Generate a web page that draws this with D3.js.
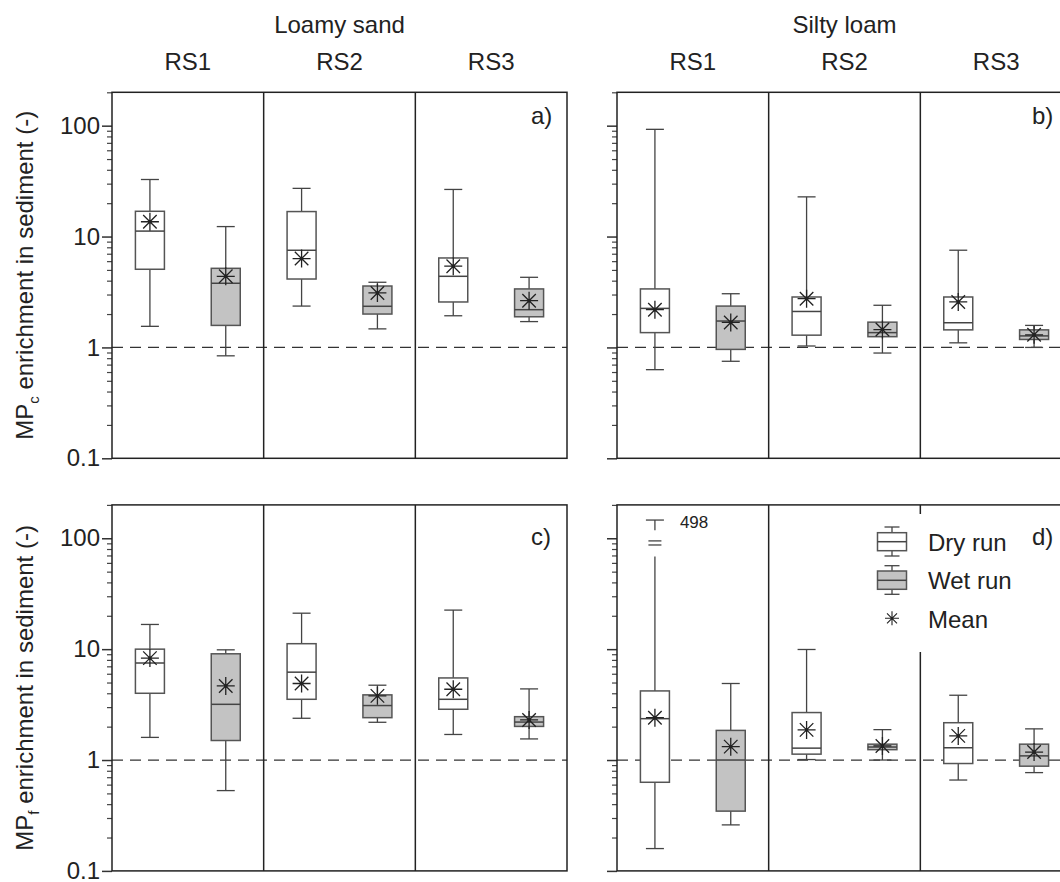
<!DOCTYPE html>
<html>
<head>
<meta charset="utf-8">
<script src="https://cdn.jsdelivr.net/npm/d3@7"></script>
<style>
body { margin: 0; background: #fff; }
text { font-family: "Liberation Sans", Arial, sans-serif; fill: #222; }
</style>
</head>
<body>
<script>
// categories and labels
var soils = ["Loamy sand", "Silty loam"];
var sites = ["RS1", "RS2", "RS3"];
var runs = ["Dry run", "Wet run", "Mean"];
var panelTags = ["a)", "b)", "c)", "d)"];
var yTicks = [0.1, 1, 10, 100];
var yTickLabels = ["0.1", "1", "10", "100"];

// each row = one site (RS1, RS2, RS3): [low, q1, median, q3, high, mean]
var mpcLoamyDry = [[1.55, 5.07, 11.2, 16.9, 32.7, 13.6], [2.36, 4.14, 7.52, 16.8, 27.2, 6.33], [1.93, 2.57, 4.38, 6.41, 26.6, 5.4]];
var mpcLoamyWet = [[0.84, 1.58, 3.79, 5.17, 12.3, 4.38], [1.47, 2.0, 2.35, 3.58, 3.87, 3.1], [1.71, 1.89, 2.19, 3.37, 4.29, 2.64]];
var mpcSiltyDry = [[0.63, 1.36, 2.25, 3.37, 92.7, 2.19], [1.03, 1.29, 2.11, 2.85, 22.8, 2.75], [1.1, 1.44, 1.67, 2.85, 7.53, 2.57]];
var mpcSiltyWet = [[0.75, 0.96, 1.73, 2.36, 3.05, 1.68], [0.89, 1.25, 1.36, 1.69, 2.4, 1.45], [1.0, 1.18, 1.27, 1.44, 1.58, 1.3]];
var mpfLoamyDry = [[1.6, 4.0, 7.5, 10.0, 16.7, 8.3], [2.38, 3.53, 6.2, 11.2, 21.1, 4.9], [1.7, 2.87, 3.53, 5.5, 22.5, 4.35]];
var mpfLoamyWet = [[0.53, 1.5, 3.18, 9.08, 9.86, 4.66], [2.19, 2.41, 3.1, 3.87, 4.73, 3.79], [1.55, 2.01, 2.2, 2.46, 4.38, 2.3]];
var mpfSiltyDry = [[0.159, 0.63, 2.36, 4.2, 498, 2.41], [1.01, 1.13, 1.28, 2.68, 9.93, 1.87], [0.66, 0.93, 1.29, 2.17, 3.84, 1.65]];
var mpfSiltyWet = [[0.26, 0.346, 1.0, 1.85, 4.9, 1.32], [1.0, 1.24, 1.31, 1.39, 1.88, 1.34], [0.77, 0.88, 1.09, 1.39, 1.91, 1.18]];

// axis break for the 498 whisker (drawn values on the log axis)
var breakCap = 146, breakStub = 118, breakMarks = [94.7, 87], breakResume = 68.5;

var svg = d3.select("body").append("svg")
    .attr("width", 1060)
    .attr("height", 882)
    .style("display", "block");

var colX = [[112, 567], [617, 1072]];
var rowY = [[458.3, 92.3], [870.9, 504.9]];
var tagPos = [[531, 124], [1032, 124], [531, 545], [1032, 545]];
var titles = [["MP", "c"], ["MP", "f"]];

var panels = [
    {row: 0, col: 0, dry: mpcLoamyDry, wet: mpcLoamyWet},
    {row: 0, col: 1, dry: mpcSiltyDry, wet: mpcSiltyWet},
    {row: 1, col: 0, dry: mpfLoamyDry, wet: mpfLoamyWet},
    {row: 1, col: 1, dry: mpfSiltyDry, wet: mpfSiltyWet}
];

var boxW = 29, capW = 18;
var minorTicks = [];
[0.1, 1, 10, 100].forEach(function(d) {
    for (var k = 2; k <= 9; k++) if (d * k <= 200) minorTicks.push(d * k);
});

function asterisk(g, cx, cy, r) {
    var d = r * 0.75;
    g.append("path")
        .attr("d", "M" + (cx - r) + "," + cy + "H" + (cx + r) +
            "M" + cx + "," + (cy - r) + "V" + (cy + r) +
            "M" + (cx - d) + "," + (cy - d) + "L" + (cx + d) + "," + (cy + d) +
            "M" + (cx - d) + "," + (cy + d) + "L" + (cx + d) + "," + (cy - d))
        .attr("stroke", "#222")
        .attr("stroke-width", 1.3)
        .attr("fill", "none");
    g.append("circle").attr("cx", cx).attr("cy", cy).attr("r", 1.6).attr("fill", "#222");
}

panels.forEach(function(p, pi) {
    var x = d3.scaleBand().domain(sites).range(colX[p.col]);
    var y = d3.scaleLog().domain([0.1, 200]).range(rowY[p.row]);
    var g = svg.append("g");

    // y axis: major and minor ticks
    var major = d3.axisLeft(y).tickValues(yTicks).tickSize(10)
        .tickFormat(function(d, i) { return p.col === 0 ? yTickLabels[i] : ""; });
    var ax = g.append("g").attr("transform", "translate(" + colX[p.col][0] + ",0)").call(major);
    ax.select(".domain").remove();
    ax.selectAll("line").attr("stroke", "#333").attr("stroke-width", 1.5);
    ax.selectAll("text").attr("x", -12).style("font-size", "24px").style("font-family", "Liberation Sans, Arial, sans-serif").attr("fill", "#222");
    var minor = d3.axisLeft(y).tickValues(minorTicks).tickSize(5).tickFormat("");
    var mx = g.append("g").attr("transform", "translate(" + colX[p.col][0] + ",0)").call(minor);
    mx.select(".domain").remove();
    mx.selectAll("line").attr("stroke", "#444").attr("stroke-width", 1.2);

    // dashed reference line at 1
    g.append("line")
        .attr("x1", colX[p.col][0]).attr("x2", colX[p.col][1])
        .attr("y1", y(1)).attr("y2", y(1))
        .attr("stroke", "#333").attr("stroke-width", 1.3)
        .attr("stroke-dasharray", "11,7");

    // boxes
    [["dry", 0.25, "#fff"], ["wet", 0.75, "#c3c3c3"]].forEach(function(r) {
        var data = p[r[0]];
        var bg = g.selectAll("g.box-" + r[0]).data(data).enter().append("g");
        bg.each(function(d, i) {
            var gg = d3.select(this);
            var cx = x(sites[i]) + x.bandwidth() * r[1];
            var broken = d[4] > 200;
            var topV = broken ? breakResume : d[4];
            gg.append("line").attr("x1", cx).attr("x2", cx)
                .attr("y1", y(d[0])).attr("y2", y(topV))
                .attr("stroke", "#444").attr("stroke-width", 1.3);
            gg.append("line").attr("x1", cx - capW / 2).attr("x2", cx + capW / 2)
                .attr("y1", y(d[0])).attr("y2", y(d[0]))
                .attr("stroke", "#444").attr("stroke-width", 1.3);
            if (broken) {
                gg.append("line").attr("x1", cx - capW / 2).attr("x2", cx + capW / 2)
                    .attr("y1", y(breakCap)).attr("y2", y(breakCap))
                    .attr("stroke", "#444").attr("stroke-width", 1.3);
                gg.append("line").attr("x1", cx).attr("x2", cx)
                    .attr("y1", y(breakCap)).attr("y2", y(breakStub))
                    .attr("stroke", "#444").attr("stroke-width", 1.3);
                breakMarks.forEach(function(b) {
                    gg.append("line").attr("x1", cx - 6.5).attr("x2", cx + 6.5)
                        .attr("y1", y(b)).attr("y2", y(b))
                        .attr("stroke", "#444").attr("stroke-width", 1.3);
                });
                gg.append("text").attr("x", cx + 25).attr("y", y(breakCap) + 8)
                    .style("font-size", "17px").text(d3.format("d")(d[4]));
            } else {
                gg.append("line").attr("x1", cx - capW / 2).attr("x2", cx + capW / 2)
                    .attr("y1", y(d[4])).attr("y2", y(d[4]))
                    .attr("stroke", "#444").attr("stroke-width", 1.3);
            }
            gg.append("rect")
                .attr("x", cx - boxW / 2).attr("width", boxW)
                .attr("y", y(d[3])).attr("height", y(d[1]) - y(d[3]))
                .attr("fill", r[2]).attr("stroke", "#555").attr("stroke-width", 1.5);
            gg.append("line").attr("x1", cx - boxW / 2).attr("x2", cx + boxW / 2)
                .attr("y1", y(d[2])).attr("y2", y(d[2]))
                .attr("stroke", "#444").attr("stroke-width", 1.5);
            asterisk(gg, cx, y(d[5]), 9);
        });
    });

    // frame and site dividers
    g.append("rect")
        .attr("x", colX[p.col][0]).attr("y", rowY[p.row][1])
        .attr("width", colX[p.col][1] - colX[p.col][0])
        .attr("height", rowY[p.row][0] - rowY[p.row][1])
        .attr("fill", "none").attr("stroke", "#222").attr("stroke-width", 1.5);
    sites.slice(1).forEach(function(s) {
        g.append("line").attr("x1", x(s)).attr("x2", x(s))
            .attr("y1", rowY[p.row][1]).attr("y2", rowY[p.row][0])
            .attr("stroke", "#222").attr("stroke-width", 1.5);
    });

    // legend in panel d
    if (pi === 3) {
        var lg = g.append("g");
        lg.append("rect").attr("x", 862).attr("y", 514).attr("width", 190).attr("height", 138).attr("fill", "#fff");
        var lx = 892;
        [[532.7, 541.7, 550.7, 527, 556, "#fff"], [571, 580.3, 589.3, 565.7, 594.3, "#c3c3c3"]].forEach(function(b, k) {
            lg.append("line").attr("x1", lx).attr("x2", lx).attr("y1", b[3]).attr("y2", b[4]).attr("stroke", "#444").attr("stroke-width", 1.3);
            [b[3], b[4]].forEach(function(cy) {
                lg.append("line").attr("x1", lx - 7.5).attr("x2", lx + 7.5).attr("y1", cy).attr("y2", cy).attr("stroke", "#444").attr("stroke-width", 1.3);
            });
            lg.append("rect").attr("x", lx - boxW / 2).attr("width", boxW).attr("y", b[0]).attr("height", b[2] - b[0])
                .attr("fill", b[5]).attr("stroke", "#555").attr("stroke-width", 1.5);
            lg.append("line").attr("x1", lx - boxW / 2).attr("x2", lx + boxW / 2).attr("y1", b[1]).attr("y2", b[1]).attr("stroke", "#444").attr("stroke-width", 1.5);
        });
        var m = lg.append("g");
        var r = 7, dd = 5;
        m.append("path")
            .attr("d", "M" + lx + "," + (618.3 - r) + "V" + (618.3 + r) +
                "M" + (lx - dd) + "," + (618.3 - dd) + "L" + (lx + dd) + "," + (618.3 + dd) +
                "M" + (lx - dd) + "," + (618.3 + dd) + "L" + (lx + dd) + "," + (618.3 - dd) +
                "M" + (lx - r) + "," + 618.3 + "H" + (lx + r))
            .attr("stroke", "#222").attr("stroke-width", 1.1).attr("fill", "none");
        [551, 589.3, 628.3].forEach(function(by, k) {
            lg.append("text").attr("x", 928).attr("y", by).style("font-size", "24px").text(runs[k]);
        });
    }

    // panel tag
    svg.append("text").attr("x", tagPos[pi][0]).attr("y", tagPos[pi][1])
        .style("font-size", "24px").text(panelTags[pi]);

    // column headings
    if (p.row === 0) {
        svg.append("text").attr("x", (colX[p.col][0] + colX[p.col][1]) / 2).attr("y", 33)
            .attr("text-anchor", "middle").style("font-size", "24px").text(soils[p.col]);
        svg.selectAll(null).data(sites).enter().append("text")
            .attr("x", function(d) { return x(d) + x.bandwidth() / 2; })
            .attr("y", 70)
            .attr("text-anchor", "middle").style("font-size", "24px")
            .text(function(d) { return d; });
    }

    // y title
    if (p.col === 0) {
        var cy = (rowY[p.row][0] + rowY[p.row][1]) / 2;
        var t = svg.append("text")
            .attr("transform", "translate(33," + cy + ") rotate(-90)")
            .attr("text-anchor", "middle").style("font-size", "24px");
        t.append("tspan").text(titles[p.row][0]);
        t.append("tspan").attr("dy", 6).style("font-size", "15px").text(titles[p.row][1]);
        t.append("tspan").attr("dy", -6).text(" enrichment in sediment (-)");
    }
});
</script>
</body>
</html>
